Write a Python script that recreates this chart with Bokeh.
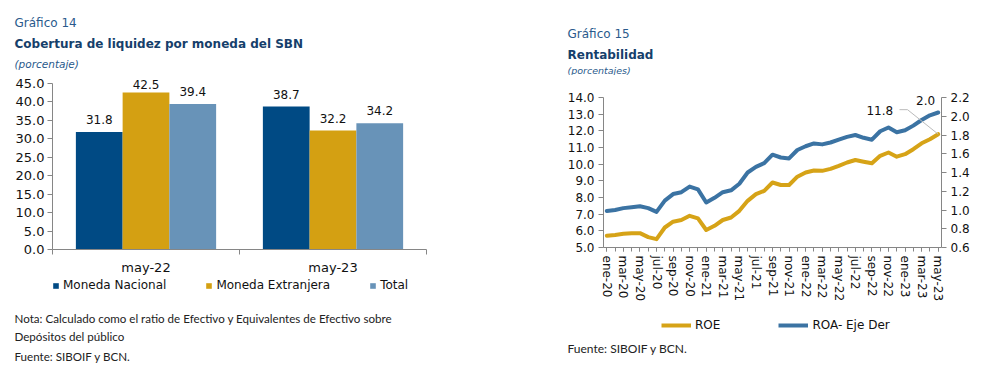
import numpy as np
from bokeh.plotting import figure
from bokeh.layouts import row, column
from bokeh.models import (ColumnDataSource, Range1d, LinearAxis, FixedTicker, Label,
                          LabelSet, Legend, LegendItem, NumeralTickFormatter)
from bokeh.core.properties import value
from bokeh.embed import file_html
from bokeh.resources import INLINE

# ---------------- data: Gráfico 14 ----------------
periods14 = ["may-22", "may-23"]
series14 = ["Moneda Nacional", "Moneda Extranjera", "Total"]
moneda_nacional = [31.8, 38.7]
moneda_extranjera = [42.5, 32.2]
total = [39.4, 34.2]

# ---------------- data: Gráfico 15 ----------------
months15 = ["ene-20", "feb-20", "mar-20", "abr-20", "may-20", "jun-20", "jul-20", "ago-20",
            "sep-20", "oct-20", "nov-20", "dic-20", "ene-21", "feb-21", "mar-21", "abr-21",
            "may-21", "jun-21", "jul-21", "ago-21", "sep-21", "oct-21", "nov-21", "dic-21",
            "ene-22", "feb-22", "mar-22", "abr-22", "may-22", "jun-22", "jul-22", "ago-22",
            "sep-22", "oct-22", "nov-22", "dic-22", "ene-23", "feb-23", "mar-23", "abr-23",
            "may-23"]
roe = [5.70, 5.75, 5.82, 5.86, 5.86, 5.62, 5.50, 6.20, 6.55, 6.65, 6.90, 6.75, 6.05, 6.30,
       6.65, 6.80, 7.20, 7.80, 8.20, 8.40, 8.90, 8.75, 8.75, 9.25, 9.50, 9.62, 9.60, 9.72,
       9.90, 10.10, 10.25, 10.15, 10.05, 10.50, 10.70, 10.45, 10.60, 10.90, 11.25, 11.50, 11.80]
roa = [0.99, 1.00, 1.02, 1.03, 1.04, 1.02, 0.98, 1.10, 1.17, 1.19, 1.25, 1.22, 1.08, 1.13,
       1.19, 1.21, 1.28, 1.40, 1.46, 1.50, 1.59, 1.56, 1.55, 1.64, 1.68, 1.71, 1.70, 1.72,
       1.75, 1.78, 1.80, 1.77, 1.75, 1.84, 1.88, 1.83, 1.85, 1.90, 1.96, 2.01, 2.04]

NAVY = "#004A84"
GOLD = "#D4A012"
LBLUE = "#6893B8"
ROE_C = "#D6A317"
ROA_C = "#3B73A3"
AXIS_C = "#868686"
TITLE_C = "#163F6B"
SUB_C = "#2A5A8C"
NOTE_C = "#222222"
TICK_FONT = "DejaVu Sans"
HEAD_FONT = "DejaVu Sans"
NOTE_FONT = "Lato"

W = 999
TOP_H = 75            # heading strip (page y 0..75)
MID_H = 231           # chart strip   (page y 75..306)
BOT_H = 383 - TOP_H - MID_H
W1 = 548
W2 = W - W1


def text_strip(w, h, xr=(0, 1), yr=(0, 1), bl=0, br=0):
    p = figure(width=w, height=h, output_backend="svg", toolbar_location=None,
               x_range=Range1d(*xr), y_range=Range1d(*yr),
               x_axis_location=None, y_axis_location=None,
               min_border=0, min_border_left=bl, min_border_right=br,
               min_border_top=0, min_border_bottom=0)
    p.outline_line_color = None
    p.grid.visible = False
    return p


def put(p, x, y, text, size, color, style="normal", font=HEAD_FONT):
    p.add_layout(Label(x=x, y=y, text=text, text_font=font, text_font_size=size,
                       text_color=color, text_font_style=style, text_baseline="middle",
                       text_align="left"))


def style_axis(ax, size):
    ax.axis_line_color = AXIS_C
    ax.major_tick_line_color = AXIS_C
    ax.minor_tick_line_color = None
    ax.major_tick_in = 0
    ax.major_label_text_font = TICK_FONT
    ax.major_label_text_font_size = size
    ax.major_label_text_color = "#111111"


# ================= headings (page coordinates) =================
top = text_strip(W, TOP_H, (0, W), (TOP_H, 0))
put(top, 14, 22, "Gráfico 14", "12px", SUB_C)
put(top, 14, 43, "Cobertura de liquidez por moneda del SBN", "12px", TITLE_C, "bold")
put(top, 14, 63, "(porcentaje)", "10.5px", SUB_C, "italic")
put(top, 567, 33, "Gráfico 15", "12px", SUB_C)
put(top, 567, 54, "Rentabilidad", "12px", TITLE_C, "bold")
put(top, 567, 69.5, "(porcentajes)", "9.5px", SUB_C, "italic")

# ================= left chart =================
P1_H = 202                    # page y 75..277
F1 = 177                      # frame page y 75..252 ; 45.0 at y 83
p1 = figure(width=W1, height=P1_H, output_backend="svg", toolbar_location=None,
            x_range=Range1d(0, len(periods14)), y_range=Range1d(0, 45 * F1 / (F1 - 8)),
            min_border_left=52, min_border_right=122, min_border_top=0,
            min_border_bottom=P1_H - F1)
p1.outline_line_color = None
p1.grid.visible = False

centers = np.arange(len(periods14)) + 0.5
bw = 0.25
offsets = [-bw, 0.0, bw]
colors14 = [NAVY, GOLD, LBLUE]
bar_sets = list(zip([moneda_nacional, moneda_extranjera, total], offsets, colors14))
for vals, off, col in bar_sets:
    src = ColumnDataSource(dict(x=centers + off, top=vals,
                                ylab=np.minimum(np.array(vals), 41.4),
                                txt=[f"{v:.1f}" for v in vals]))
    p1.vbar(x="x", top="top", width=bw, source=src, fill_color=col, line_color=None)
    p1.add_layout(LabelSet(x="x", y="ylab", text="txt", source=src, text_align="center",
                           text_baseline="bottom", y_offset=8, text_font=value(TICK_FONT),
                           text_font_size="12px", text_color="#111111"))

p1.yaxis.ticker = FixedTicker(ticks=list(np.arange(0, 46, 5)))
p1.yaxis.formatter = NumeralTickFormatter(format="0.0")
p1.yaxis.bounds = (0, 45)
style_axis(p1.yaxis[0], "13px")
p1.yaxis.major_tick_out = 5
p1.yaxis.major_label_standoff = 3

p1.xaxis.ticker = FixedTicker(ticks=list(centers), minor_ticks=list(range(len(periods14) + 1)))
p1.xaxis.major_label_overrides = {float(c): lab for c, lab in zip(centers, periods14)}
style_axis(p1.xaxis[0], "13px")
p1.xaxis.major_tick_line_color = None
p1.xaxis.minor_tick_line_color = AXIS_C
p1.xaxis.minor_tick_out = 5
p1.xaxis.minor_tick_in = 0
p1.xaxis.major_label_standoff = 4

# legend strip under the left chart (page y 277..306)
S1_H = MID_H - P1_H
s1 = text_strip(W1, S1_H, bl=52, br=122)
leg_r = [s1.vbar(x=centers + off, top=vals, width=bw, fill_color=col, line_color=None,
                 visible=False) for vals, off, col in bar_sets]
leg1 = Legend(items=[LegendItem(label=s, renderers=[r]) for s, r in zip(series14, leg_r)],
              orientation="horizontal", location=(0, S1_H - 15), spacing=39, padding=0,
              margin=0, glyph_width=7, glyph_height=7, label_standoff=4, label_height=14,
              label_text_font=TICK_FONT, label_text_font_size="12px",
              label_text_color="#111111", border_line_color=None, background_fill_alpha=0)
s1.add_layout(leg1, "center")

# ================= right chart =================
n = len(months15)
F2 = 172                      # frame page y 75..247 ; 14.0 / 2.2 at y 97
ppu = 150 / 9.0
p2 = figure(width=W2, height=MID_H, output_backend="svg", toolbar_location=None,
            x_range=Range1d(-0.4, n - 1 + 0.4), y_range=Range1d(5, 5 + F2 / ppu),
            min_border_left=55, min_border_right=58, min_border_top=0,
            min_border_bottom=MID_H - F2)
p2.extra_y_ranges = {"roa": Range1d(0.6, 0.6 + 1.6 * F2 / 150)}
p2.outline_line_color = None
p2.grid.visible = False

xs = np.arange(n)
src2 = ColumnDataSource(dict(x=xs, roe=roe, roa=roa))
p2.line("x", "roe", source=src2, line_color=ROE_C, line_width=4,
        line_join="round", line_cap="round")
p2.line("x", "roa", source=src2, line_color=ROA_C, line_width=4,
        line_join="round", line_cap="round", y_range_name="roa")

p2.yaxis.ticker = FixedTicker(ticks=list(np.arange(5, 14.5, 1.0)))
p2.yaxis.formatter = NumeralTickFormatter(format="0.0")
p2.yaxis.bounds = (5, 14)
ax_r = LinearAxis(y_range_name="roa",
                  ticker=FixedTicker(ticks=list(np.round(np.arange(0.6, 2.21, 0.2), 1))),
                  formatter=NumeralTickFormatter(format="0.0"), bounds=(0.6, 2.2))
p2.add_layout(ax_r, "right")
for ax in [p2.yaxis[0], ax_r]:
    style_axis(ax, "12px")
    ax.major_tick_out = 5
    ax.major_label_standoff = 4

p2.xaxis.ticker = FixedTicker(ticks=list(xs[::2]), minor_ticks=list(xs))
p2.xaxis.major_label_overrides = {int(i): months15[i] for i in xs[::2]}
p2.xaxis.major_label_orientation = "vertical"
style_axis(p2.xaxis[0], "12px")
p2.xaxis.minor_tick_line_color = AXIS_C
p2.xaxis.major_tick_out = 4
p2.xaxis.minor_tick_out = 4
p2.xaxis.minor_tick_in = 0
p2.xaxis.major_label_standoff = 4

# end-value labels
last = n - 1
ppx = (941 - 603) / (n - 1 + 0.8)
p2.line([last - 38.7 / ppx, last - 30.7 / ppx, last],
        [roe[-1] + 24.5 / ppu, roe[-1] + 24.5 / ppu, roe[-1]],
        line_color="#BBBBBB", line_width=1)
p2.add_layout(Label(x=last, y=roe[-1], text=f"{roe[-1]:.1f}", x_offset=-45, y_offset=24,
                    text_align="right", text_baseline="middle", text_font=TICK_FONT,
                    text_font_size="12px", text_color="#111111"))
p2.add_layout(Label(x=last, y=roa[-1], y_range_name="roa", text=f"{roa[-1]:.1f}", x_offset=-3,
                    y_offset=12, text_align="right", text_baseline="middle",
                    text_font=TICK_FONT, text_font_size="12px", text_color="#111111"))

# ================= notes / right legend (page coordinates) =================
y0b = TOP_H + MID_H
bot = text_strip(W, BOT_H, (0, W), (y0b + BOT_H, y0b))
put(bot, 14, 318, "Nota: Calculado como el ratio de Efectivo y Equivalentes de Efectivo sobre",
    "11.6px", NOTE_C, font=NOTE_FONT)
put(bot, 14, 336, "Depósitos del público", "11.6px", NOTE_C, font=NOTE_FONT)
put(bot, 14, 356, "Fuente: SIBOIF y BCN.", "11.6px", NOTE_C, font=NOTE_FONT)
put(bot, 567, 348, "Fuente: SIBOIF y  BCN.", "12px", NOTE_C, font=NOTE_FONT)

k_roe = bot.line(xs, roe, line_color=ROE_C, line_width=4, visible=False)
k_roa = bot.line(xs, roa, line_color=ROA_C, line_width=4, visible=False)
leg2 = Legend(items=[LegendItem(label="ROE", renderers=[k_roe]),
                     LegendItem(label="ROA- Eje Der", renderers=[k_roa])],
              orientation="horizontal", location=(661, (y0b + BOT_H) - 325 - 7), spacing=58,
              padding=0, margin=0, glyph_width=30, glyph_height=14, label_standoff=4,
              label_height=14, label_text_font=TICK_FONT, label_text_font_size="12px",
              label_text_color="#111111", border_line_color=None, background_fill_alpha=0)
bot.add_layout(leg2, "center")

layout = column(top, row(column(p1, s1), column(p2)), bot)
open("out.html", "w").write(file_html(layout, INLINE))
